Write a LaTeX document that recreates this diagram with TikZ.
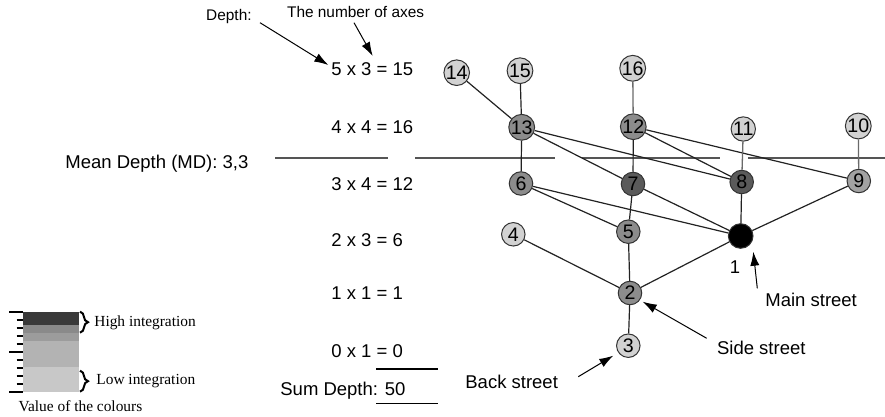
\documentclass[tikz,border=0pt]{standalone}
\usepackage{fontspec}
\setmainfont{Liberation Sans}
\newfontfamily\legendfont{Liberation Serif}
\usetikzlibrary{arrows.meta,decorations.pathreplacing}

\definecolor{lgray}{HTML}{D2D2D2}
\definecolor{mgray}{HTML}{8C8C8C}
\definecolor{pgray}{HTML}{A2A2A2}
\definecolor{dgray}{HTML}{5A5A5A}
\definecolor{edgecol}{HTML}{222222}
\definecolor{softedge}{HTML}{6A6A6A}
\definecolor{sepcol}{HTML}{555555}
\definecolor{bandA}{HTML}{3A3A3A}
\definecolor{bandB}{HTML}{8A8A8A}
\definecolor{bandC}{HTML}{9C9C9C}
\definecolor{bandD}{HTML}{B3B3B3}
\definecolor{bandE}{HTML}{C8C8C8}

\begin{document}
\begin{tikzpicture}[x=0.5pt,y=-0.5pt,
  street/.style={circle,draw=black!80,line width=0.5pt,minimum size=11.75pt,
    inner sep=0pt,font=\fontsize{9.8}{9.8}\selectfont},
  lightst/.style={street,fill=lgray},
  midst/.style={street,fill=mgray},
  palest/.style={street,fill=pgray},
  darkst/.style={street,fill=dgray},
  mainst/.style={street,fill=black,minimum size=12.3pt},
  link/.style={draw=edgecol,line width=0.6pt},
  softlink/.style={draw=softedge,line width=0.65pt},
  sep/.style={draw=sepcol,line width=0.65pt},
  txt/.style={font=\fontsize{9.25}{11}\selectfont,inner sep=0pt},
  smalltxt/.style={font=\fontsize{7.7}{9}\selectfont,inner sep=0pt},
  serif/.style={font=\legendfont\fontsize{7.7}{9}\selectfont,inner sep=0pt},
  pointer/.style={draw=black,line width=0.5pt,-{Latex[length=7pt,width=4.6pt]}},
  tick/.style={draw=black,line width=1pt},
  bracket/.style={line width=1pt,decorate,decoration={brace,amplitude=4pt}}]

\useasboundingbox (0,0) rectangle (885,417);

% depth levels and their products
\node[txt,anchor=base west] (r5) at (331,76) {5 x 3 = 15};
\node[txt,anchor=base west] (r4) at (331,133.6) {4 x 4 = 16};
\node[txt,anchor=base west] (r3) at (331,190.6) {3 x 4 = 12};
\node[txt,anchor=base west] (r2) at (331,246.6) {2 x 3 = 6};
\node[txt,anchor=base west] (r1) at (331,299.3) {1 x 1 = 1};
\node[txt,anchor=base west] (r0) at (331,357.6) {0 x 1 = 0};
\node[txt,anchor=base west] (sum) at (280,395.6) {Sum Depth: 50};
\node[txt,anchor=base west] (md) at (65,168.3) {Mean Depth (MD): 3,3};

% rules round the sum
\coordinate (sa) at (376,369); \coordinate (sb) at (438,369);
\coordinate (sc) at (376,403.3); \coordinate (sd) at (438,403.3);
\draw[line width=0.6pt] (sa) -- (sb);
\draw[line width=0.6pt] (sc) -- (sd);

% mean depth separator
\coordinate (h1a) at (275,158); \coordinate (h1b) at (388,158);
\coordinate (h2a) at (415,158); \coordinate (h2b) at (555,158);
\coordinate (h3a) at (582,158); \coordinate (h3b) at (720,158);
\coordinate (h4a) at (748,158); \coordinate (h4b) at (885,158);
\draw[sep] (h1a) -- (h1b);
\draw[sep] (h2a) -- (h2b);
\draw[sep] (h3a) -- (h3b);
\draw[sep] (h4a) -- (h4b);

% annotations at the top
\node[smalltxt,anchor=base west] (axes) at (286.7,17.2) {The number of axes};
\node[smalltxt,anchor=base east] (depth) at (252,20.5) {Depth:};
\coordinate (dt) at (260,22.7); \coordinate (dh) at (328.3,65);
\coordinate (at) at (354,22.7); \coordinate (ah) at (372.7,56);
\draw[pointer] (dt) -- (dh);
\draw[pointer] (at) -- (ah);

% street nodes
\node[lightst] (n14) at (456.7,72.7) {14};
\node[lightst] (n15) at (520,70.7) {15};
\node[lightst] (n16) at (632.7,68.3) {16};
\node[midst]   (n13) at (521.7,127.3) {13};
\node[midst]   (n12) at (633.3,126.7) {12};
\node[lightst] (n11) at (743.3,129) {11};
\node[lightst] (n10) at (858.3,126) {10};
\node[midst]   (n6)  at (521,183.5) {6};
\node[darkst]  (n7)  at (633,184) {7};
\node[darkst]  (n8)  at (741.7,182) {8};
\node[palest]  (n9)  at (858.8,181) {9};
\node[lightst] (n4)  at (513.3,234.3) {4};
\node[midst]   (n5)  at (628.3,231.7) {5};
\node[mainst]  (n1)  at (740.7,236) {};
\node[midst]   (n2)  at (630,293) {2};
\node[lightst] (n3)  at (628.3,345.7) {3};
\node[txt,anchor=base] (l1) at (735,273.3) {1};

% connections between streets
\draw[link] (n14) -- (n13);
\draw[link] (n15) -- (n13);
\draw[link] (n13) -- (n6);
\draw[link] (n13) -- (n7);
\draw[link] (n13) -- (n8);
\draw[softlink] (n16) -- (n12);
\draw[link] (n12) -- (n7);
\draw[link] (n12) -- (n8);
\draw[link] (n12) -- (n9);
\draw[softlink] (n11) -- (n8);
\draw[softlink] (n10) -- (n9);
\draw[link] (n6) -- (n5);
\draw[link] (n6) -- (n1);
\draw[link] (n7) -- (n5);
\draw[link] (n7) -- (n1);
\draw[link] (n8) -- (n1);
\draw[link] (n9) -- (n1);
\draw[link] (n4) -- (n2);
\draw[link] (n5) -- (n2);
\draw[link] (n1) -- (n2);
\draw[link] (n2) -- (n3);

% street type labels
\node[txt,anchor=base west] (mainl) at (765,306.6) {Main street};
\node[txt,anchor=base west] (sidel) at (716.7,355) {Side street};
\node[txt,anchor=base west] (backl) at (465,388.3) {Back street};
\coordinate (mt) at (757.3,288.3); \coordinate (mh) at (753.3,251.7);
\coordinate (st) at (706.7,338.3); \coordinate (sh) at (642.7,301.7);
\coordinate (bt) at (578.3,376.7); \coordinate (bh) at (613.3,355.7);
\draw[pointer] (mt) -- (mh);
\draw[pointer] (st) -- (sh);
\draw[pointer] (bt) -- (bh);

% colour scale
\fill[bandA] (23.3,311.7) rectangle (79.3,325);
\fill[bandB] (23.3,325) rectangle (79.3,333.3);
\fill[bandC] (23.3,333.3) rectangle (79.3,340.7);
\fill[bandD] (23.3,340.7) rectangle (79.3,366.7);
\fill[bandE] (23.3,366.7) rectangle (79.3,391.7);
\foreach \i in {0,...,10} {
  \pgfmathsetmacro{\ty}{311.9+\i*7.98}
  \ifnum\i=0 \draw[tick] (9.3,\ty) -- (23.3,\ty);
  \else\ifnum\i=5 \draw[tick] (9.3,\ty) -- (23.3,\ty);
  \else\ifnum\i=10 \draw[tick] (9.3,\ty) -- (23.3,\ty);
  \else \draw[tick] (16.7,\ty) -- (23.3,\ty);
  \fi\fi\fi
}
\coordinate (bh1) at (80,311.7); \coordinate (bh2) at (80,332.7);
\coordinate (bl1) at (80,370.7); \coordinate (bl2) at (80,391.7);
\draw[bracket] (bh1) -- (bh2);
\draw[bracket] (bl1) -- (bl2);
\node[serif,anchor=base west] (hi) at (94,326.7) {High integration};
\node[serif,anchor=base west] (lo) at (96,385) {Low integration};
\node[serif,anchor=base west] (val) at (18.3,411) {Value of the colours};
\end{tikzpicture}
\end{document}
